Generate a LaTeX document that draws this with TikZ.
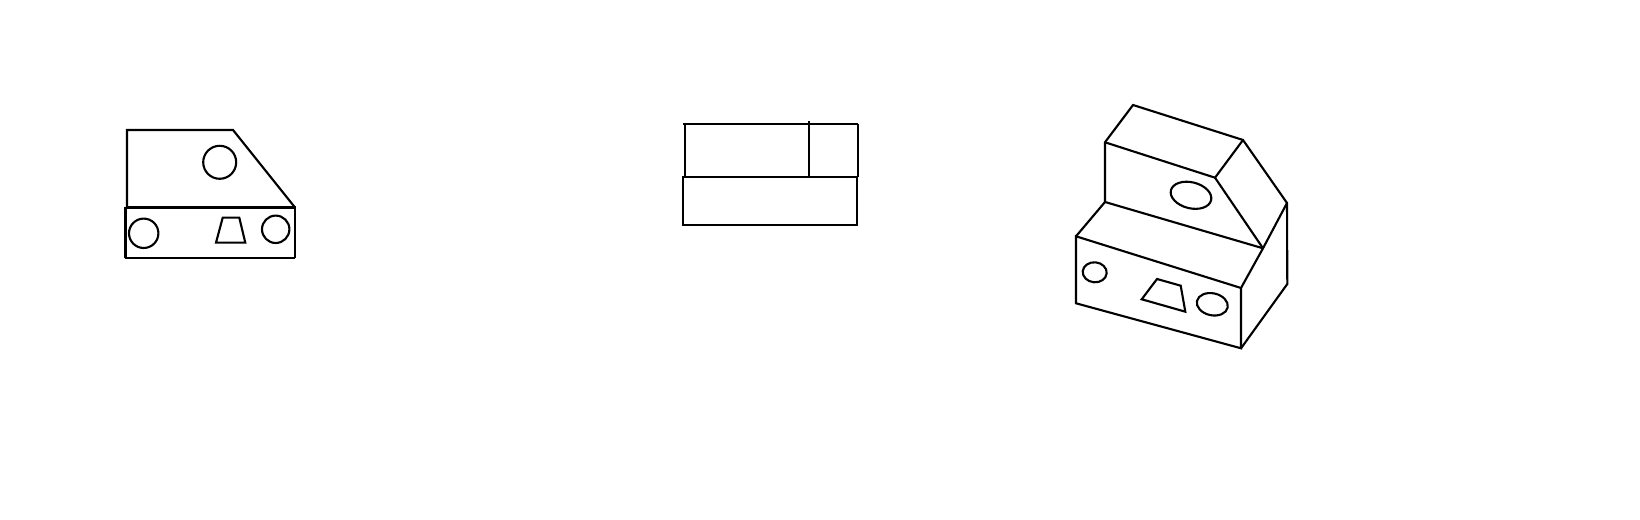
\documentclass[tikz,border=0pt]{standalone}
\usepackage{tikz}
\tikzset{outline/.style={line width=0.6pt},
  heavy/.style={line width=1.1pt}}

\begin{document}
\begin{tikzpicture}
\useasboundingbox (0,0) rectangle (16.4,5.2);
% left view
\draw[outline] (1.27,3.125) to (1.27,3.90) to (2.33,3.90) to (2.95,3.125);
\draw[heavy] (1.255,3.125) to (2.955,3.125);
\draw[outline] (1.255,3.125) to (1.255,2.62);
\draw[outline] (2.95,3.125) to (2.95,2.62);
\draw[outline] (1.245,2.62) to (2.95,2.62);
\draw[outline] (2.197,3.577) circle (0.165);
\draw[outline] (1.437,2.867) circle (0.147);
\draw[outline] (2.757,2.907) circle (0.137);
\draw[outline] (2.227,3.023) to (2.393,3.023) to (2.453,2.773) to (2.16,2.773) -- cycle;
% middle view
\draw[outline] (6.833,3.96) to (8.58,3.96);
\draw[outline] (6.85,3.96) to (6.85,3.433);
\draw[outline] (8.58,3.96) to (8.58,3.433);
\draw[outline] (8.09,3.99) to (8.09,3.433);
\draw[outline] (6.83,3.433) rectangle (8.57,2.95);
% right view
\coordinate (backtop) at (11.33,4.15);
\coordinate (backslope) at (12.43,3.80);
\coordinate (fronttop) at (11.05,3.777);
\coordinate (frontslope) at (12.15,3.423);
\coordinate (backstep) at (12.87,3.17);
\coordinate (frontfoot) at (11.05,3.18);
\coordinate (stepend) at (12.63,2.717);
\coordinate (lefttop) at (10.76,2.837);
\coordinate (edgetop) at (12.41,2.32);
\coordinate (leftbase) at (10.76,2.167);
\coordinate (edgebase) at (12.41,1.717);
\coordinate (backbase) at (12.873,2.36);
\draw[outline] (frontfoot) to (fronttop) to (backtop) to (backslope) to (backstep) to (backbase) to (edgebase);
\draw[outline] (fronttop) to (frontslope) to (stepend);
\draw[outline] (backslope) to (frontslope);
\draw[outline] (lefttop) to (frontfoot) to (stepend);
\draw[outline] (backstep) to (stepend) to (edgetop);
\draw[outline] (lefttop) to (edgetop) to (edgebase) to (leftbase) -- cycle;
\draw[outline,rotate around={-14:(11.91,3.247)}] (11.91,3.247) ellipse (0.207 and 0.13);
\draw[outline,rotate around={-5:(10.947,2.477)}] (10.947,2.477) ellipse (0.12 and 0.10);
\draw[outline,rotate around={-12:(12.123,2.157)}] (12.123,2.157) ellipse (0.157 and 0.11);
\draw[outline] (11.57,2.41) to (11.807,2.343) to (11.853,2.083) to (11.417,2.207) -- cycle;
\end{tikzpicture}
\end{document}
